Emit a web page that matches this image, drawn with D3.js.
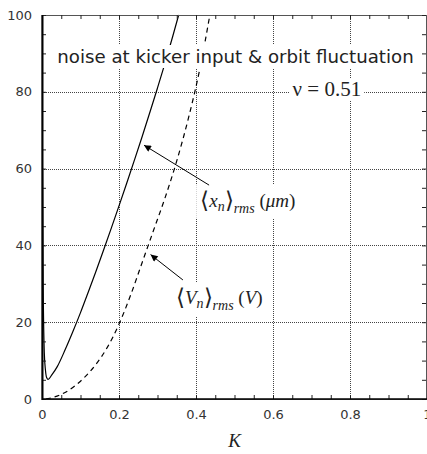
<!DOCTYPE html>
<html>
<head>
<meta charset="utf-8">
<script src="https://cdn.jsdelivr.net/npm/d3@7"></script>
<style>
  body { margin: 0; background: #fff; }
</style>
</head>
<body>
<div id="chart"></div>
<script>
// values
const kSolid = [0.0015, 0.003, 0.006, 0.009, 0.012, 0.016, 0.025, 0.04, 0.06, 0.08, 0.1, 0.12, 0.14, 0.16, 0.18, 0.2, 0.22, 0.24, 0.26, 0.28, 0.3, 0.32, 0.34, 0.355]
const xnRms = [60, 30, 12, 7.5, 5.6, 5.1, 6.2, 8.5, 12.8, 17.5, 22.5, 27.8, 33.2, 38.8, 44.5, 50.3, 56.2, 62.2, 68.3, 74.6, 81, 87.6, 94.6, 100]

const kDash = [0.01, 0.02, 0.05, 0.08, 0.11, 0.14, 0.17, 0.2, 0.23, 0.26, 0.29, 0.32, 0.35, 0.38, 0.41, 0.436]
const vnRms = [0, 0.2, 1.2, 3.0, 5.6, 9.0, 13.5, 19.5, 27, 35.5, 44, 52.5, 62, 73, 86, 100]

const xTicks = [0, 0.2, 0.4, 0.6, 0.8, 1]
const xTickLabels = ['0', '0.2', '0.4', '0.6', '0.8', '1']
const yTicks = [0, 20, 40, 60, 80, 100]

const title = 'noise at kicker input & orbit fluctuation'
const nuLabel = 'ν = 0.51'
const xLabel = 'K'

// arrows: [tail K, tail value, tip K, tip value]
const arrowX = [0.434, 55.7, 0.265, 66.1]
const arrowV = [0.366, 31, 0.282, 37.6]

const margin = { top: 15, left: 42, right: 0, bottom: 55 }
const width = 427 - margin.left - margin.right
const height = 454 - margin.top - margin.bottom

const svgRoot = d3
  .select('#chart')
  .append('svg')
  .attr('width', 427)
  .attr('height', 454)

const svg = svgRoot
  .append('g')
  .attr('transform', 'translate(' + margin.left + ',' + margin.top + ')')

const x = d3.scaleLinear().domain([0, 1]).range([0, width])
const y = d3.scaleLinear().domain([0, 100]).range([height, 0])

svgRoot
  .append('defs')
  .append('marker')
  .attr('id', 'head')
  .attr('viewBox', '0 0 10 10')
  .attr('refX', 10)
  .attr('refY', 5)
  .attr('markerWidth', 9)
  .attr('markerHeight', 7)
  .attr('markerUnits', 'userSpaceOnUse')
  .attr('orient', 'auto')
  .append('path')
  .attr('d', 'M0,0 L10,5 L0,10 z')
  .attr('fill', '#000')

// dotted grid
const grid = svg.append('g').attr('stroke', '#444').attr('stroke-dasharray', '1,1').attr('stroke-width', 1)
grid
  .selectAll('.gx')
  .data(xTicks.slice(1, -1))
  .enter()
  .append('line')
  .attr('x1', d => Math.round(x(d)) + 0.5)
  .attr('x2', d => Math.round(x(d)) + 0.5)
  .attr('y1', 0)
  .attr('y2', height)
grid
  .selectAll('.gy')
  .data(yTicks.slice(1, -1))
  .enter()
  .append('line')
  .attr('y1', d => Math.round(y(d)) + 0.5)
  .attr('y2', d => Math.round(y(d)) + 0.5)
  .attr('x1', 0)
  .attr('x2', width)

// curves
const line = d3.line().curve(d3.curveMonotoneX)

svg
  .append('path')
  .datum(kSolid.map((k, i) => [x(k), y(xnRms[i])]))
  .attr('d', line)
  .attr('fill', 'none')
  .attr('stroke', '#000')
  .attr('stroke-width', 1.2)

svg
  .append('path')
  .datum(kDash.map((k, i) => [x(k), y(vnRms[i])]))
  .attr('d', line)
  .attr('fill', 'none')
  .attr('stroke', '#000')
  .attr('stroke-width', 1.2)
  .attr('stroke-dasharray', '5,4')

// texts with white boxes behind them
function boxed(sel, pad) {
  const b = sel.node().getBBox()
  const node = sel.node()
  svg
    .insert('rect', () => node)
    .attr('x', b.x - pad[0])
    .attr('y', b.y - pad[1])
    .attr('width', b.width + pad[0] * 2)
    .attr('height', b.height + pad[1] * 2)
    .attr('fill', '#fff')
}

const t1 = svg
  .append('text')
  .attr('x', x(0.5) + 1)
  .attr('y', 48)
  .attr('text-anchor', 'middle')
  .attr('font-family', 'DejaVu Sans, sans-serif')
  .attr('font-size', 18.2)
  .attr('fill', '#222')
  .text(title)
boxed(t1, [2, 1])

const t2 = svg
  .append('text')
  .attr('x', x(0.74))
  .attr('y', 81)
  .attr('text-anchor', 'middle')
  .attr('font-family', 'Liberation Serif, serif')
  .attr('font-size', 21)
  .attr('fill', '#222')
  .text(nuLabel)
boxed(t2, [3, -1])

function mathLabel(px, py, sym, unit) {
  const t = svg
    .append('text')
    .attr('x', px)
    .attr('y', py)
    .attr('font-family', 'Liberation Serif, serif')
    .attr('font-size', 19)
    .attr('fill', '#222')
  t.append('tspan').attr('font-size', 23).attr('dy', 1).text('⟨')
  t.append('tspan').attr('font-style', 'italic').attr('dy', -1).text(sym)
  t.append('tspan').attr('font-style', 'italic').attr('font-size', 14).attr('dy', 4).text('n')
  t.append('tspan').attr('font-size', 23).attr('dy', -3).text('⟩')
  t.append('tspan').attr('font-style', 'italic').attr('font-size', 14).attr('dy', 5).text('rms')
  t.append('tspan').attr('dy', -6).text(' (')
  t.append('tspan').attr('font-style', 'italic').text(unit)
  t.append('tspan').text(')')
  boxed(t, [4, 3])
  return t
}

mathLabel(x(0.411), 192, 'x', 'μm')
mathLabel(x(0.348), 289, 'V', 'V')

// arrows
;[arrowX, arrowV].forEach(a => {
  svg
    .append('line')
    .attr('x1', x(a[0]))
    .attr('y1', y(a[1]))
    .attr('x2', x(a[2]))
    .attr('y2', y(a[3]))
    .attr('stroke', '#000')
    .attr('stroke-width', 1)
    .attr('marker-end', 'url(#head)')
})

// frame
svg
  .append('rect')
  .attr('x', 0)
  .attr('y', 0.5)
  .attr('width', width - 0.5)
  .attr('height', height)
  .attr('fill', 'none')
  .attr('stroke', '#555')
  .attr('stroke-width', 1)

// axes, ticks pointing in on all four sides
const minorX = d3.range(0, 1.0001, 0.05)
const minorY = d3.range(0, 100.001, 5)

function styleAxis(g) {
  g.select('.domain').remove()
  g.selectAll('line').attr('stroke', '#222')
  g.selectAll('text')
    .attr('font-family', 'DejaVu Sans, sans-serif')
    .attr('font-size', 13)
    .attr('fill', '#333')
}

svg
  .append('g')
  .attr('transform', 'translate(0,' + height + ')')
  .call(d3.axisBottom(x).tickValues(minorX).tickSize(-4).tickFormat(''))
  .call(styleAxis)
svg
  .append('g')
  .attr('transform', 'translate(0,' + height + ')')
  .call(d3.axisBottom(x).tickValues(xTicks).tickSize(0).tickPadding(11).tickFormat((d, i) => xTickLabels[i]))
  .call(styleAxis)
svg
  .append('g')
  .call(d3.axisTop(x).tickValues(minorX).tickSize(-4).tickFormat(''))
  .call(styleAxis)

svg
  .append('g')
  .call(d3.axisLeft(y).tickValues(minorY).tickSize(-4).tickFormat(''))
  .call(styleAxis)
svg
  .append('g')
  .call(d3.axisLeft(y).tickValues(yTicks).tickSize(0).tickPadding(10))
  .call(styleAxis)
svg
  .append('g')
  .attr('transform', 'translate(' + (width - 1) + ',0)')
  .call(d3.axisRight(y).tickValues(minorY).tickSize(-4).tickFormat(''))
  .call(styleAxis)

// heavier left and bottom lines
svg
  .append('line')
  .attr('x1', 0.5).attr('x2', 0.5)
  .attr('y1', 0).attr('y2', height + 1)
  .attr('stroke', '#000')
  .attr('stroke-width', 2)
svg
  .append('line')
  .attr('x1', 0).attr('x2', width)
  .attr('y1', height).attr('y2', height)
  .attr('stroke', '#000')
  .attr('stroke-width', 1.5)

svg
  .append('text')
  .attr('x', x(0.5))
  .attr('y', height + 48)
  .attr('text-anchor', 'middle')
  .attr('font-family', 'Liberation Serif, serif')
  .attr('font-size', 19)
  .attr('font-style', 'italic')
  .attr('fill', '#222')
  .text(xLabel)
</script>
</body>
</html>
